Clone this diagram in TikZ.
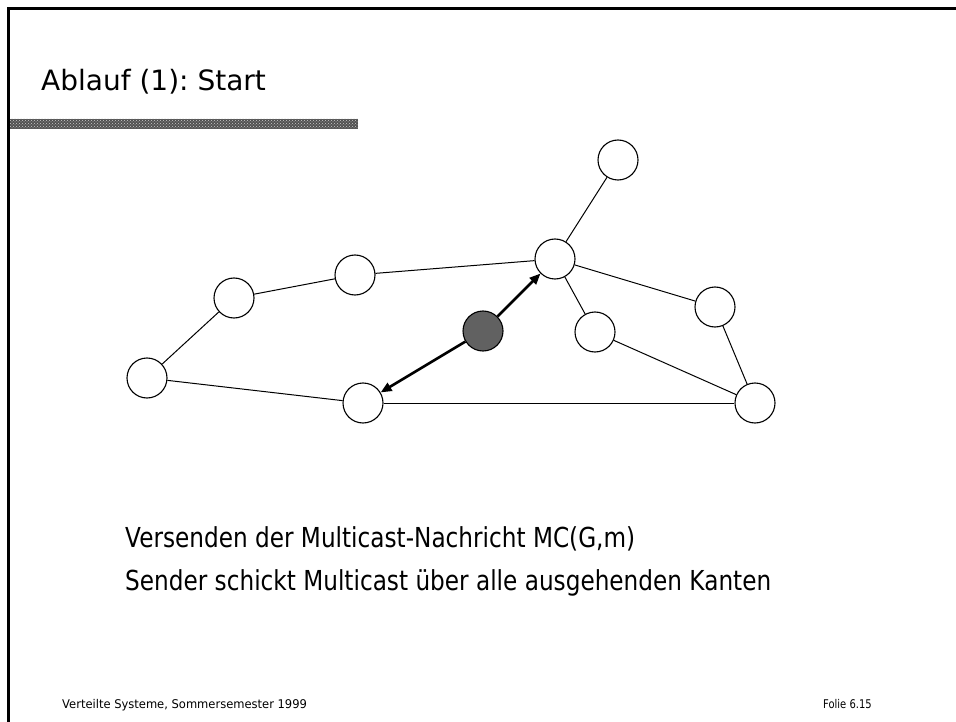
\documentclass[tikz,border=0pt]{standalone}
\usepackage{fontspec}
\setmainfont{DejaVu Sans}
\newfontfamily\bodyfont{DejaVu Sans}[FakeStretch=0.843]
\newfontfamily\footfont{DejaVu Sans}[FakeStretch=0.96]
\newfontfamily\pagefont{DejaVu Sans}[FakeStretch=0.83]
\usetikzlibrary{arrows.meta,patterns}
\begin{document}
\frenchspacing
\begin{tikzpicture}[x=1pt,y=-1pt,
  vertex/.style={circle,draw=black,line width=1.1pt,fill=white,minimum size=40pt,inner sep=0pt},
  sender/.style={vertex,fill=black!62},
  edge/.style={line width=1pt,black},
  msg/.style={line width=2.6pt,-{Triangle[length=11pt,width=9pt]}},
  txt/.style={anchor=base west,inner sep=0pt}]
\useasboundingbox (0,0) rectangle (956,722);
\fill[white] (0,0) rectangle (956,722);

% slide frame (top and left edge)
\draw[line width=3pt] (8.5,722) -- (8.5,9) -- (956,9);

% title and grained rule below it
\node[txt] (title) at (41,90.7) {\fontsize{28}{34}\selectfont Ablauf (1): Start};
\fill[black!68] (10,119) rectangle (358,129);
\fill[pattern=crosshatch dots,pattern color=white!80!black] (10,119) rectangle (358,129);

% network nodes
\node[vertex] (top)   at (618,160) {};
\node[vertex] (hub)   at (555,259) {};
\node[vertex] (a)     at (355,275) {};
\node[vertex] (b)     at (234,298) {};
\node[vertex] (left)  at (147,378) {};
\node[vertex] (mid)   at (363,403) {};
\node[vertex] (br)    at (755,403) {};
\node[vertex] (r)     at (715,307) {};
\node[vertex] (small) at (595,332) {};
\node[sender] (src)   at (483,331) {};

% links
\draw[edge] (top) -- (hub);
\draw[edge] (hub) -- (a);
\draw[edge] (a) -- (b);
\draw[edge] (b) -- (left);
\draw[edge] (left) -- (mid);
\draw[edge] (mid) -- (br);
\draw[edge] (hub) -- (r);
\draw[edge] (hub) -- (small);
\draw[edge] (r) -- (br);
\draw[edge] (small) -- (br);

% multicast sent over the outgoing links
\draw[msg] (src) -- (hub);
\draw[msg] (src) -- (mid);

% body text
\node[txt] (l1) at (125,547) {\bodyfont\fontsize{27.5}{33}\selectfont Versenden der Multicast-Nachricht MC(G,m)};
\node[txt] (l2) at (125,590.7) {\bodyfont\fontsize{27.5}{33}\selectfont Sender schickt Multicast über alle ausgehenden Kanten};

% footer
\node[txt] (foot) at (62,708) {\footfont\fontsize{12}{14}\selectfont Verteilte Systeme, Sommersemester 1999};
\node[txt] (folie) at (823,708) {\pagefont\fontsize{12}{14}\selectfont Folie 6.15};
\end{tikzpicture}
\end{document}
